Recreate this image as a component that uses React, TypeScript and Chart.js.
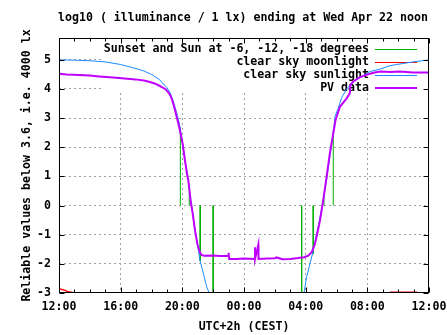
import { useEffect, useRef } from 'react';
import { Chart, registerables } from 'chart.js';

Chart.register(...registerables);

const TITLE = 'log10 ( illuminance / 1 lx) ending at Wed Apr 22 noon';
const X_TITLE = 'UTC+2h (CEST)';
const Y_TITLE = 'Reliable values below 3.6, i.e. 4000 lx';

// x = hours after 12:00 (UTC+2h)
const X_TICK_HOURS = [0, 4, 8, 12, 16, 20, 24];
const X_TICK_LABELS = ['12:00', '16:00', '20:00', '00:00', '04:00', '08:00', '12:00'];
const Y_TICKS = [-3, -2, -1, 0, 1, 2, 3, 4, 5];

const SERIES_LABELS = [
  'Sunset and Sun at -6, -12, -18 degrees',
  'clear sky moonlight',
  'clear sky sunlight',
  'PV data',
];
const SERIES_COLORS = ['#00b000', '#ff0000', '#1a8cff', '#c000ff'];

// sunset / -6 / -12 / -18 and sunrise -18 / -12 / -6 / sunrise (impulses from 0)
const sunEventHours = [7.87, 8.45, 9.16, 10.0, 15.74, 16.49, 17.19, 17.79];
const sunEventValues = [2.68, 0.6, -1.9, -3.0, -3.0, -1.66, 0.35, 2.6];

const moonHours = [0.0, 0.4, 0.6, 0.93, 1.0, 11.0, 21.45, 21.5, 22.3, 23.2, 23.25];
const moonValues = [-2.85, -2.91, -2.96, -2.99, -3.05, null, -3.05, -2.97, -2.97, -2.97, -3.05];

const sunHours = [
  0, 1, 2, 3, 4, 5, 5.5, 6, 6.5, 7, 7.2, 7.4, 7.65, 7.85, 8.02, 8.17, 8.39, 8.54, 8.67,
  8.82, 8.97, 9.14, 9.36, 9.58, 9.75, 9.9, 15.75, 15.89, 16.06, 16.28, 16.49, 16.71,
  16.93, 17.14, 17.36, 17.57, 17.79, 17.9, 18.11, 18.33, 18.66, 18.87, 19.3, 19.73,
  20.17, 20.8, 21.47, 21.9, 22.98, 24,
];
const sunValues = [
  5.0, 4.99, 4.97, 4.93, 4.84, 4.7, 4.62, 4.5, 4.33, 4.05, 3.88, 3.6, 3.15, 2.7, 2.12,
  1.55, 0.86, 0.17, -0.27, -0.84, -1.3, -1.87, -2.32, -2.79, -3.0, -3.4, -3.4, -3.0,
  -2.46, -2.0, -1.55, -0.97, -0.4, 0.19, 0.88, 1.68, 2.48, 3.05, 3.34, 3.7, 4.0, 4.13,
  4.35, 4.46, 4.6, 4.68, 4.8, 4.84, 4.93, 5.0,
];

const pvHours = [
  0, 0.5, 1.3, 2.0, 2.6, 3.3, 3.9, 4.97, 5.5, 5.84, 6.2, 6.48, 6.7, 6.92, 7.1, 7.24,
  7.35, 7.46, 7.6, 7.8, 8.02, 8.17, 8.3, 8.39, 8.54, 8.67, 8.82, 8.97, 9.04, 9.14, 9.25,
  9.4, 10.0, 10.5, 10.98, 11.0, 11.04, 11.05, 11.5, 12.0, 12.7, 12.71, 12.72, 12.93,
  12.94, 13.5, 14.0, 14.1, 14.5, 15.0, 15.5, 15.9, 16.17, 16.39, 16.6, 16.75, 16.93,
  17.14, 17.36, 17.57, 17.79, 17.94, 18.22, 18.66, 18.87, 18.9, 19.09, 19.5, 19.95,
  20.4, 20.82, 21.5, 22.1, 22.96, 24,
];
const pvValues = [
  4.52, 4.5, 4.48, 4.46, 4.43, 4.4, 4.38, 4.33, 4.29, 4.25, 4.19, 4.12, 4.06, 3.99, 3.88,
  3.76, 3.6, 3.41, 3.12, 2.69, 2.12, 1.55, 1.1, 0.86, 0.17, -0.27, -0.84, -1.3, -1.43,
  -1.6, -1.69, -1.72, -1.71, -1.73, -1.72, -1.62, -1.83, -1.83, -1.83, -1.82, -1.83,
  -1.43, -1.83, -1.34, -1.83, -1.82, -1.81, -1.78, -1.84, -1.83, -1.8, -1.77, -1.72,
  -1.6, -1.32, -0.97, -0.51, 0.19, 0.99, 1.8, 2.48, 2.94, 3.39, 3.68, 3.86, 4.14, 4.26,
  4.4, 4.49, 4.56, 4.6, 4.58, 4.6, 4.57, 4.57,
];

const Y_MIN = -3;
const Y_MAX = 5.75;

const FONT_FAMILY = '"DejaVu Sans Mono", "Liberation Mono", monospace';

function pts(xs: number[], ys: (number | null)[]) {
  return xs.map((x, i) => ({ x, y: ys[i] }));
}

function impulses(xs: number[], ys: number[]) {
  const out: { x: number; y: number | null }[] = [];
  xs.forEach((x, i) => {
    out.push({ x, y: 0 });
    out.push({ x, y: ys[i] });
    out.push({ x, y: null });
  });
  return out;
}

const titlePlugin = {
  id: 'gpTitle',
  afterDraw(chart: any) {
    const { ctx, chartArea: a } = chart;
    ctx.save();
    ctx.font = `bold 11.6px ${FONT_FAMILY}`;
    ctx.fillStyle = '#000';
    ctx.textAlign = 'center';
    ctx.textBaseline = 'middle';
    ctx.fillText(TITLE, (a.left + a.right) / 2 - 1, 17.5);
    ctx.restore();
  },
};

const legendPlugin = {
  id: 'gpLegend',
  beforeDatasetsDraw(chart: any) {
    const { ctx, chartArea: a } = chart;
    ctx.save();
    ctx.fillStyle = '#ffffff';
    ctx.fillRect(101, a.top + 1, a.right - 1 - 101, 92 - a.top - 1);
    ctx.font = `bold 11.6px ${FONT_FAMILY}`;
    ctx.textAlign = 'right';
    ctx.textBaseline = 'middle';
    SERIES_LABELS.forEach((lab, i) => {
      const y = a.top + 10.5 + i * 13;
      ctx.fillStyle = '#000';
      ctx.fillText(lab, a.right - 60, y);
      ctx.strokeStyle = SERIES_COLORS[i];
      ctx.lineWidth = i === 3 ? 2 : 1;
      ctx.beginPath();
      const yy = i === 3 ? Math.round(y) : Math.round(y) + 0.5;
      ctx.moveTo(a.right - 54, yy);
      ctx.lineTo(a.right - 12, yy);
      ctx.stroke();
    });
    ctx.restore();
  },
};

const framePlugin = {
  id: 'gpFrame',
  afterDatasetsDraw(chart: any) {
    const { ctx, chartArea: a, scales } = chart;
    const L = Math.round(a.left) + 0.5;
    const R = Math.round(a.right) - 0.5;
    const T = Math.round(a.top) + 0.5;
    const B = Math.round(a.bottom) - 0.5;
    ctx.save();
    ctx.strokeStyle = '#000';
    ctx.lineWidth = 1;
    ctx.beginPath();
    // x ticks (major every 4 h, minor every hour)
    for (let h = 0; h <= 24; h++) {
      const x = Math.round(scales.x.getPixelForValue(h)) + 0.5;
      const len = h % 4 === 0 ? 5 : 3;
      ctx.moveTo(x, B);
      ctx.lineTo(x, B - len);
      ctx.moveTo(x, T);
      ctx.lineTo(x, T + len);
    }
    Y_TICKS.forEach((v) => {
      const y = Math.round(scales.y.getPixelForValue(v)) + 0.5;
      ctx.moveTo(L, y);
      ctx.lineTo(L + 5, y);
      ctx.moveTo(R, y);
      ctx.lineTo(R - 5, y);
    });
    ctx.stroke();
    ctx.strokeRect(L, T, R - L, B - T);
    ctx.restore();
  },
};

export default function App() {
  const ref = useRef<HTMLCanvasElement | null>(null);

  useEffect(() => {
    if (!ref.current) return;
    const gridColor = '#a0a0a0';
    const chart = new Chart(ref.current, {
      type: 'line',
      data: {
        datasets: [
          {
            label: SERIES_LABELS[0],
            data: impulses(sunEventHours, sunEventValues),
            borderColor: SERIES_COLORS[0],
            borderWidth: 1,
            pointRadius: 0,
            spanGaps: false,
            order: 4,
          },
          {
            label: SERIES_LABELS[1],
            data: pts(moonHours, moonValues),
            borderColor: SERIES_COLORS[1],
            borderWidth: 1.5,
            pointRadius: 0,
            spanGaps: false,
            order: 3,
          },
          {
            label: SERIES_LABELS[2],
            data: pts(sunHours, sunValues),
            borderColor: SERIES_COLORS[2],
            borderWidth: 1,
            pointRadius: 0,
            order: 2,
          },
          {
            label: SERIES_LABELS[3],
            data: pts(pvHours, pvValues),
            borderColor: SERIES_COLORS[3],
            borderWidth: 2,
            pointRadius: 0,
            order: 1,
          },
        ] as any,
      },
      options: {
        animation: false,
        responsive: false,
        layout: { padding: { top: 38, left: 0, right: 18, bottom: 0 } },
        plugins: {
          legend: { display: false },
          tooltip: { enabled: false },
          title: { display: false },
        },
        scales: {
          x: {
            type: 'linear',
            min: 0,
            max: 24,
            afterBuildTicks: (s: any) => {
              s.ticks = X_TICK_HOURS.map((v) => ({ value: v }));
            },
            afterFit: (s: any) => {
              s.height = 42;
              s.paddingLeft = 0;
              s.paddingRight = 0;
            },
            ticks: {
              autoSkip: false,
              maxRotation: 0,
              padding: 7,
              color: '#000',
              font: { family: FONT_FAMILY, size: 11.6, weight: 'bold' },
              callback: (v: any) => X_TICK_LABELS[X_TICK_HOURS.indexOf(Number(v))],
            },
            grid: {
              drawTicks: false,
              color: (c: any) =>
                c.tick && c.tick.value > 0 && c.tick.value < 24 ? gridColor : 'rgba(0,0,0,0)',
              lineWidth: 1,
            },
            border: { display: false, dash: [2, 3] },
            title: {
              display: true,
              text: X_TITLE,
              color: '#000',
              font: { family: FONT_FAMILY, size: 11.6, weight: 'bold' },
              padding: { top: 0, bottom: 1 },
            },
          },
          y: {
            type: 'linear',
            min: Y_MIN,
            max: Y_MAX,
            afterBuildTicks: (s: any) => {
              s.ticks = Y_TICKS.map((v) => ({ value: v }));
            },
            afterFit: (s: any) => {
              s.width = 59;
              s.paddingTop = 0;
              s.paddingBottom = 0;
            },
            ticks: {
              padding: 8,
              color: '#000',
              font: { family: FONT_FAMILY, size: 11.6, weight: 'bold' },
              callback: (v: any) => String(v),
            },
            grid: {
              drawTicks: false,
              color: (c: any) =>
                c.tick && c.tick.value > Y_MIN ? gridColor : 'rgba(0,0,0,0)',
              lineWidth: 1,
            },
            border: { display: false, dash: [2, 3] },
            title: {
              display: true,
              text: Y_TITLE,
              color: '#000',
              font: { family: FONT_FAMILY, size: 11.6, weight: 'bold' },
              padding: { top: 20, bottom: 0 },
            },
          },
        },
      } as any,
      plugins: [legendPlugin, framePlugin, titlePlugin],
    });
    return () => chart.destroy();
  }, []);

  return (
    <div style={{ position: 'fixed', left: 0, top: 0, width: 447, height: 335, background: '#fff' }}>
      <canvas ref={ref} width={447} height={335} />
    </div>
  );
}
